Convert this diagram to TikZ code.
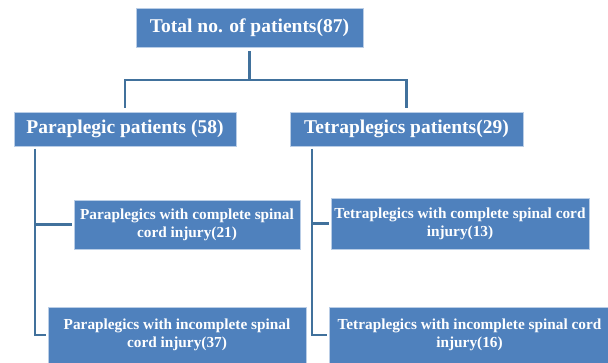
\documentclass[tikz,border=0pt]{standalone}
\usepackage{fontspec}
\setmainfont{Liberation Serif}
\usetikzlibrary{positioning}

\definecolor{boxblue}{RGB}{79,129,189}
\definecolor{boxedge}{RGB}{185,205,230}
\definecolor{linkblue}{RGB}{65,113,156}

\begin{document}
\begin{tikzpicture}[x=1pt, y=-1pt,
  box/.style={rectangle, fill=boxblue, draw=boxedge, line width=0.8pt,
    text=white, font=\bfseries, align=center, inner sep=0pt},
  head/.style={box, font=\fontsize{19.5}{22}\selectfont\bfseries},
  leaf/.style={box, font=\fontsize{15.3}{18}\selectfont\bfseries},
  link/.style={draw=linkblue, line width=2.5pt}]

\useasboundingbox (0,0) rectangle (608,363);

% top level
\node [head, minimum width=227pt, minimum height=39pt] (total) at (249.5,27.5)
  {Total no. of patients(87)};

% second level
\node [head, minimum width=222pt, minimum height=34pt] (para) at (125,129)
  {Paraplegic patients (58)};
\node [head, minimum width=233pt, minimum height=34pt] (tetra) at (406.5,129)
  {Tetraplegics patients(29)};

% leaves
\node [leaf, minimum width=226pt, minimum height=49pt] (paracomp) at (187,224.5)
  {Paraplegics with complete spinal\\cord injury(21)};
\node [leaf, minimum width=258pt, minimum height=56pt] (paraincomp) at (177,335)
  {Paraplegics with incomplete spinal\\cord injury(37)};
\node [leaf, minimum width=258pt, minimum height=51pt] (tetracomp) at (460,223.5)
  {Tetraplegics with complete spinal cord\\injury(13)};
\node [leaf, minimum width=281pt, minimum height=56pt] (tetraincomp) at (469.5,335)
  {Tetraplegics with incomplete spinal cord\\injury(16)};

% connectors
\coordinate (split) at (249.5,80);
\coordinate (paraspine) at (35,149);
\coordinate (tetraspine) at (312,149);

\draw [link, shorten <=4pt] (total.south) -- (split);
\draw [link, shorten >=4pt] (split) -| (para.north);
\draw [link, shorten >=4pt] (split) -| (tetra.north);

\foreach \s/\t in {paraspine/paracomp, paraspine/paraincomp,
                   tetraspine/tetracomp, tetraspine/tetraincomp}
  \draw [link, shorten >=1.5pt] (\s) |- (\t.west);

\end{tikzpicture}
\end{document}
